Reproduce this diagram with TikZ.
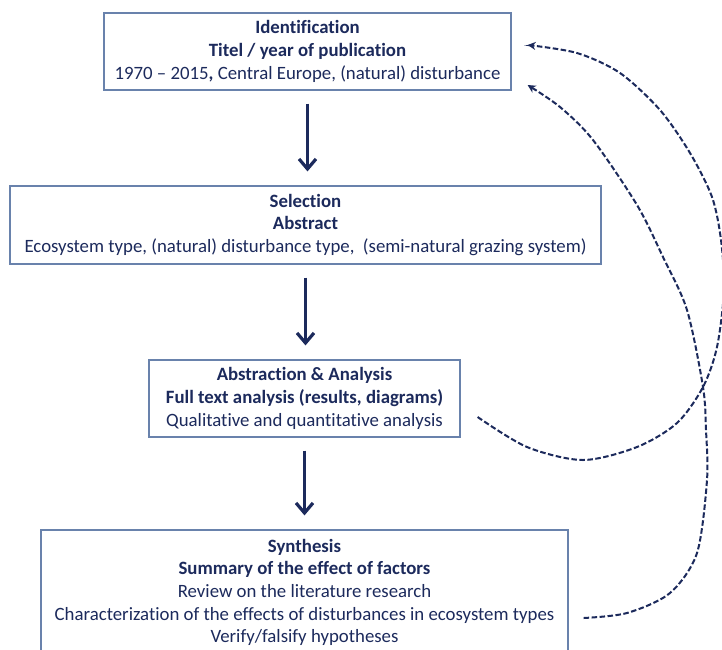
\documentclass[tikz,border=0pt]{standalone}
\usepackage{fontspec}
\setmainfont[Ligatures=CommonOff]{Carlito}
\usetikzlibrary{arrows.meta}
\definecolor{navy}{RGB}{28,42,92}
\definecolor{boxline}{RGB}{105,130,172}
\begin{document}
\begin{tikzpicture}[x=1pt,y=1pt,
  box/.style={draw=boxline, line width=1.2pt, text=navy, align=center, inner sep=0pt,
    font=\fontsize{18.8}{22.6}\selectfont},
  flow/.style={draw=navy, line width=3.2pt, -{Straight Barb[length=10pt,width=17pt]},
    shorten <=13pt, shorten >=14pt},
  fb/.style={draw=navy, line width=2pt, dash pattern=on 5.5pt off 2.5pt,
    -{Stealth[length=8pt,width=8pt]}}]
\useasboundingbox (0,0) rectangle (722,-649);
\fill[white] (0,0) rectangle (722,-649);
\node[box, minimum width=407pt, minimum height=77pt] (b1) at (307.5,-51.5)
  {\textbf{Identification}\\\textbf{Titel / year of publication}\\1970 – 2015\textbf{,} Central Europe, (natural) disturbance};
\node[box, minimum width=591pt, minimum height=78pt] (b2) at (305.5,-225)
  {\textbf{Selection}\\\textbf{Abstract}\\Ecosystem type, (natural) disturbance type,\ \ (semi-natural grazing system)};
\node[box, minimum width=311pt, minimum height=77pt] (b3) at (304.5,-398.5)
  {\textbf{Abstraction \& Analysis}\\\textbf{Full text analysis (results, diagrams)}\\Qualitative and quantitative analysis};
\node[box, minimum width=527pt, minimum height=125pt] (b4) at (304.5,-592.5)
  {\textbf{Synthesis}\\\textbf{Summary of the effect of factors}\\Review on the literature research\\Characterization of the effects of disturbances in ecosystem types\\Verify/falsify hypotheses};
\draw[flow] (b1.south) -- (b1.south |- b2.north);
\draw[flow] (b2.south) -- (b2.south |- b3.north);
\draw[flow] (b3.south) -- (b3.south |- b4.north);
\coordinate (s1) at ([shift={(17,-18.5)}]b3.east);
\coordinate (s2) at ([shift={(15,-25.5)}]b4.east);
\coordinate (t1) at ([shift={(16,6.5)}]b1.east);
\coordinate (t2) at ([shift={(16,-33.5)}]b1.east);
\draw[fb] plot[smooth, tension=0.5] coordinates {(s1) (527,-447) (583,-460) (637,-447) (677,-423) (703,-387) (717,-347) (724,-290) (721,-240) (712,-197) (690,-153) (660,-110) (620,-73) (577,-53) (t1)};
\draw[fb] plot[smooth, tension=0.5] coordinates {(s2) (627,-613) (670,-593) (697,-553) (707,-480) (706,-430) (703,-387) (687,-310) (663,-257) (637,-205) (593,-140) (560,-107) (t2)};
\end{tikzpicture}
\end{document}
